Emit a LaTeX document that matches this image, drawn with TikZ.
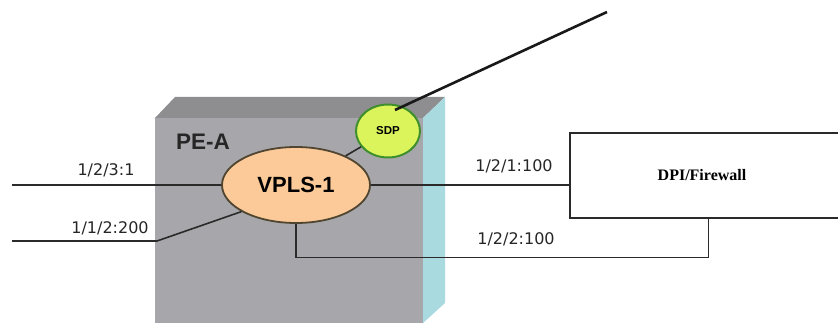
\documentclass[tikz,border=0pt]{standalone}
\usepackage{fontspec}
\setmainfont{Liberation Serif}
\setsansfont{DejaVu Sans}
\newfontfamily\headfont{Liberation Sans}
\usepackage{tikz}
\usetikzlibrary{shapes.geometric,calc}

\definecolor{frontgray}{HTML}{A7A7AB}
\definecolor{topgray}{HTML}{8E8E90}
\definecolor{sidecyan}{HTML}{A9DADF}
\definecolor{vplsfill}{HTML}{FBCA98}
\definecolor{vplsring}{HTML}{4F4530}
\definecolor{sdpfill}{HTML}{DCF45C}
\definecolor{sdpring}{HTML}{3F8F2C}
\definecolor{linegray}{HTML}{2A2A2A}

\begin{document}
\begin{tikzpicture}
	[x=1pt,y=-1pt,thick,
		port line/.style={draw=linegray,line width=1.6pt},
		port label/.style={font=\sffamily\fontsize{16}{16}\selectfont,text=black!85},
		vpls node/.style={ellipse,draw=vplsring,line width=1.8pt,fill=vplsfill,minimum width=148pt,minimum height=76pt,inner sep=0pt,font=\headfont\bfseries\fontsize{22}{22}\selectfont},
		sdp node/.style={ellipse,draw=sdpring,line width=2pt,fill=sdpfill,minimum width=64pt,minimum height=53pt,inner sep=0pt,font=\headfont\bfseries\fontsize{11.5}{12}\selectfont},
		dpi box/.style={rectangle,minimum width=264pt,minimum height=85pt,inner sep=0pt,font=\bfseries\fontsize{16}{17}\selectfont}]

	\useasboundingbox (0,0) rectangle (838,323);

	% PE-A chassis
	\fill[topgray] (155,118) -- (175,97) -- (445,97) -- (423,118) -- cycle;
	\fill[sidecyan] (423,118) -- (445,97) -- (445,303) -- (423,323) -- cycle;
	\fill[frontgray] (155,118) rectangle (423,323);
	\node[font=\headfont\bfseries\fontsize{22.5}{23}\selectfont,text=black!85] (pea) at (203,142) {PE-A};

	\node[vpls node] (vpls) at (296,185) {VPLS-1};
	\node[sdp node]  (sdp)  at (388,131) {SDP};
	\node[dpi box]   (dpi)  at (702,175.5) {DPI/Firewall};

	\coordinate (west a) at (12,185);
	\coordinate (west b) at (12,241);
	\coordinate (bend b) at (157,241);
	\coordinate (uplink) at (607,12);
	\coordinate (sdp tip) at ($(sdp.center)+(7,-21)$);
	\coordinate (dpi drop) at ($(dpi.south west)+(139,0)$);

	\draw[line width=2pt,draw=linegray] ([xshift=12pt]dpi.north east) -- (dpi.north west) -- (dpi.south west) -- ([xshift=12pt]dpi.south east);

	\path[port line]
	(west a) edge (vpls.west)
	(sdp) edge (vpls)
	(vpls.east) edge (vpls.east -| dpi.west)
	;
	\draw[port line] (west b) -- (bend b) -- (vpls.206);
	\draw[port line] (vpls.south) |- ($(dpi drop)+(0,39)$) -- (dpi drop);
	\draw[line width=2.6pt,draw=black!90] (uplink) -- (sdp tip);

	\node[port label] (lab a) at (106,170) {1/2/3:1};
	\node[port label] (lab b) at (110,228) {1/1/2:200};
	\node[port label] (lab c) at (514,166) {1/2/1:100};
	\node[port label] (lab d) at (516,239) {1/2/2:100};

\end{tikzpicture}
\end{document}
